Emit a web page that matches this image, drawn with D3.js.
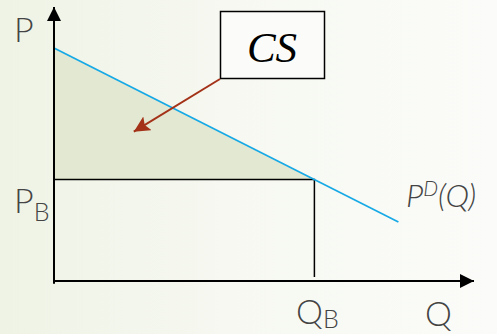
<!DOCTYPE html>
<html>
<head>
<meta charset="utf-8">
<script src="https://cdn.jsdelivr.net/npm/d3@7"></script>
<style>
  html, body { margin: 0; padding: 0; }
  svg { display: block; }
  .lbl { font-family: Lato, "Open Sans", sans-serif; font-weight: 300; fill: #444; }
</style>
</head>
<body>
<svg id="chart"></svg>
<script>
/* ------------------ data ------------------ */

// demand curve P^D(Q), endpoints (axis units 0..100)
const demandQ = [0, 82];
const demandP = [85, 21.5];

// market point B
const QB = 62;
const PB = 37;

// axis extent
const axisMaxQ = 100;
const axisMaxP = 100;

/* ------------------ setup ------------------ */

const W = 497;
const H = 334;

const svg = d3.select("#chart").attr("width", W).attr("height", H);

const x = d3.scaleLinear().domain([0, axisMaxQ]).range([54, 474]);
const y = d3.scaleLinear().domain([0, axisMaxP]).range([281, 7]);

const demand = demandQ.map((q, i) => ({ q, p: demandP[i] }));
const pAt = q => demandP[0] + (demandP[1] - demandP[0]) * (q - demandQ[0]) / (demandQ[1] - demandQ[0]);

/* ---- background ---- */

const defs = svg.append("defs");
const grad = defs.append("linearGradient").attr("id", "bg")
  .attr("x1", 0).attr("x2", 1).attr("y1", 0).attr("y2", 0);
grad.append("stop").attr("offset", "0%").attr("stop-color", "#eff3e5");
grad.append("stop").attr("offset", "45%").attr("stop-color", "#f6f8f1");
grad.append("stop").attr("offset", "100%").attr("stop-color", "#fbfcf9");

svg.append("rect").attr("width", W).attr("height", H).attr("fill", "url(#bg)");

defs.append("marker").attr("id", "axHead")
  .attr("viewBox", "0 0 10 10").attr("refX", 10).attr("refY", 5)
  .attr("markerWidth", 14).attr("markerHeight", 14)
  .attr("markerUnits", "userSpaceOnUse").attr("orient", "auto")
  .append("path").attr("d", "M0,0L10,5L0,10Z").attr("fill", "#000");

defs.append("marker").attr("id", "redHead")
  .attr("viewBox", "0 0 10 10").attr("refX", 10).attr("refY", 5)
  .attr("markerWidth", 16).attr("markerHeight", 16)
  .attr("markerUnits", "userSpaceOnUse").attr("orient", "auto")
  .append("path").attr("d", "M0,0L10,5L0,10L2,5Z").attr("fill", "#a33218");

/* ---- consumer surplus area ---- */

const csArea = [
  { q: 0, p: pAt(0) },
  { q: QB, p: PB },
  { q: 0, p: PB }
];

svg.append("path")
  .datum(csArea)
  .attr("d", d3.line().x(d => x(d.q)).y(d => y(d.p)).curve(d3.curveLinearClosed))
  .attr("fill", "#e3e8d2");

/* ---- PB / QB lines ---- */

svg.append("path")
  .attr("d", d3.line()([[x(0), y(PB)], [x(QB), y(PB)], [x(QB), y(1.5)]]))
  .attr("fill", "none").attr("stroke", "#000").attr("stroke-width", 1.5);

/* ---- demand ---- */

svg.append("path")
  .datum(demand)
  .attr("d", d3.line().x(d => x(d.q)).y(d => y(d.p)))
  .attr("fill", "none").attr("stroke", "#16a9e6").attr("stroke-width", 1.7);

/* ---- axes ---- */

svg.append("line")
  .attr("x1", x(0)).attr("y1", y(-1)).attr("x2", x(0)).attr("y2", y(axisMaxP))
  .attr("stroke", "#000").attr("stroke-width", 2).attr("marker-end", "url(#axHead)");

svg.append("line")
  .attr("x1", x(0) - 1).attr("y1", y(0)).attr("x2", x(axisMaxQ)).attr("y2", y(0))
  .attr("stroke", "#000").attr("stroke-width", 2).attr("marker-end", "url(#axHead)");

/* ---- labels ---- */

svg.append("text").attr("class", "lbl")
  .attr("x", 14).attr("y", 42).attr("font-size", 34).text("P");

const pb = svg.append("text").attr("class", "lbl")
  .attr("x", 14).attr("y", 213).attr("font-size", 34);
pb.append("tspan").text("P");
pb.append("tspan").attr("font-size", 25).attr("dy", 8).text("B");

const qb = svg.append("text").attr("class", "lbl")
  .attr("x", 296).attr("y", 324).attr("font-size", 34);
qb.append("tspan").text("Q");
qb.append("tspan").attr("font-size", 25).attr("dy", 4).text("B");

svg.append("text").attr("class", "lbl")
  .attr("x", 425).attr("y", 326).attr("font-size", 34).text("Q");

const pd = svg.append("text").attr("class", "lbl")
  .attr("x", 406).attr("y", 207).attr("font-size", 32).attr("font-style", "italic");
pd.append("tspan").text("P");
pd.append("tspan").attr("font-size", 21).attr("dy", -11).text("D");
pd.append("tspan").attr("dy", 11).text("(Q)");

/* ---- CS callout ---- */

svg.append("rect")
  .attr("x", 220.5).attr("y", 11.5).attr("width", 104).attr("height", 67)
  .attr("fill", "#fbfcf9").attr("stroke", "#000").attr("stroke-width", 1.5);

svg.append("text")
  .attr("x", 272).attr("y", 62).attr("text-anchor", "middle")
  .attr("font-family", "'Liberation Serif', serif").attr("font-style", "italic")
  .attr("font-size", 43).attr("fill", "#000").text("CS");

svg.append("line")
  .attr("x1", 220).attr("y1", 79).attr("x2", x(19)).attr("y2", y(54.5))
  .attr("stroke", "#a33218").attr("stroke-width", 2).attr("marker-end", "url(#redHead)");
</script>
</body>
</html>
